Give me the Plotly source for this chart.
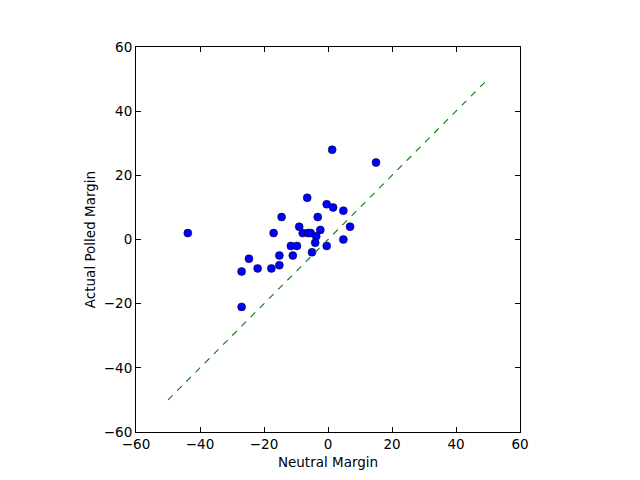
import plotly.graph_objects as go

neutral_margin = [1.3, 15, -6.5, -0.4, 1.6, 4.8, -14.5, -3.2, 6.9, -9, -17, -7.9,
                  -6.2, -5.4, -2.4, -3.7, -4, 4.8, -0.4, -11.6, -9.7, -5,
                  -24.7, -15.2, -11, -15.2, -22, -17.7, -27, -27, -43.8]
actual_margin = [28, 24, 13, 11, 10, 9, 7, 7, 4, 4, 2, 2,
                 2, 2, 3, 1, -1, 0, -2, -2, -2, -4,
                 -6, -5, -5, -8, -9, -9, -10, -21, 2]
ref_line = list(range(-50, 50))

fig = go.Figure()
fig.add_trace(go.Scatter(x=neutral_margin, y=actual_margin, mode="markers",
                         marker=dict(color="#0000ff", size=8,
                                     line=dict(color="black", width=0.5)),
                         showlegend=False))
fig.add_trace(go.Scatter(x=ref_line, y=ref_line, mode="lines",
                         line=dict(color="#008000", width=1.1, dash="6.5px,6.5px"),
                         showlegend=False))

font = dict(family="DejaVu Sans", size=13.5, color="black")
axis_common = dict(showgrid=False, zeroline=False, showline=True, linecolor="black",
                   linewidth=1.1, mirror="ticks", ticks="inside", ticklen=4.5,
                   tickcolor="black", tickfont=font, dtick=20)
fig.update_xaxes(range=[-60, 60], title=dict(text="Neutral Margin", standoff=6, font=font),
                 **axis_common)
fig.update_yaxes(range=[-60, 60], title=dict(text="Actual Polled Margin", standoff=5, font=font),
                 **axis_common)

fig.update_layout(width=640, height=480, autosize=False,
                  margin=dict(l=128, r=128, t=39, b=56),
                  plot_bgcolor="white", paper_bgcolor="white")
fig.write_html("out.html")
